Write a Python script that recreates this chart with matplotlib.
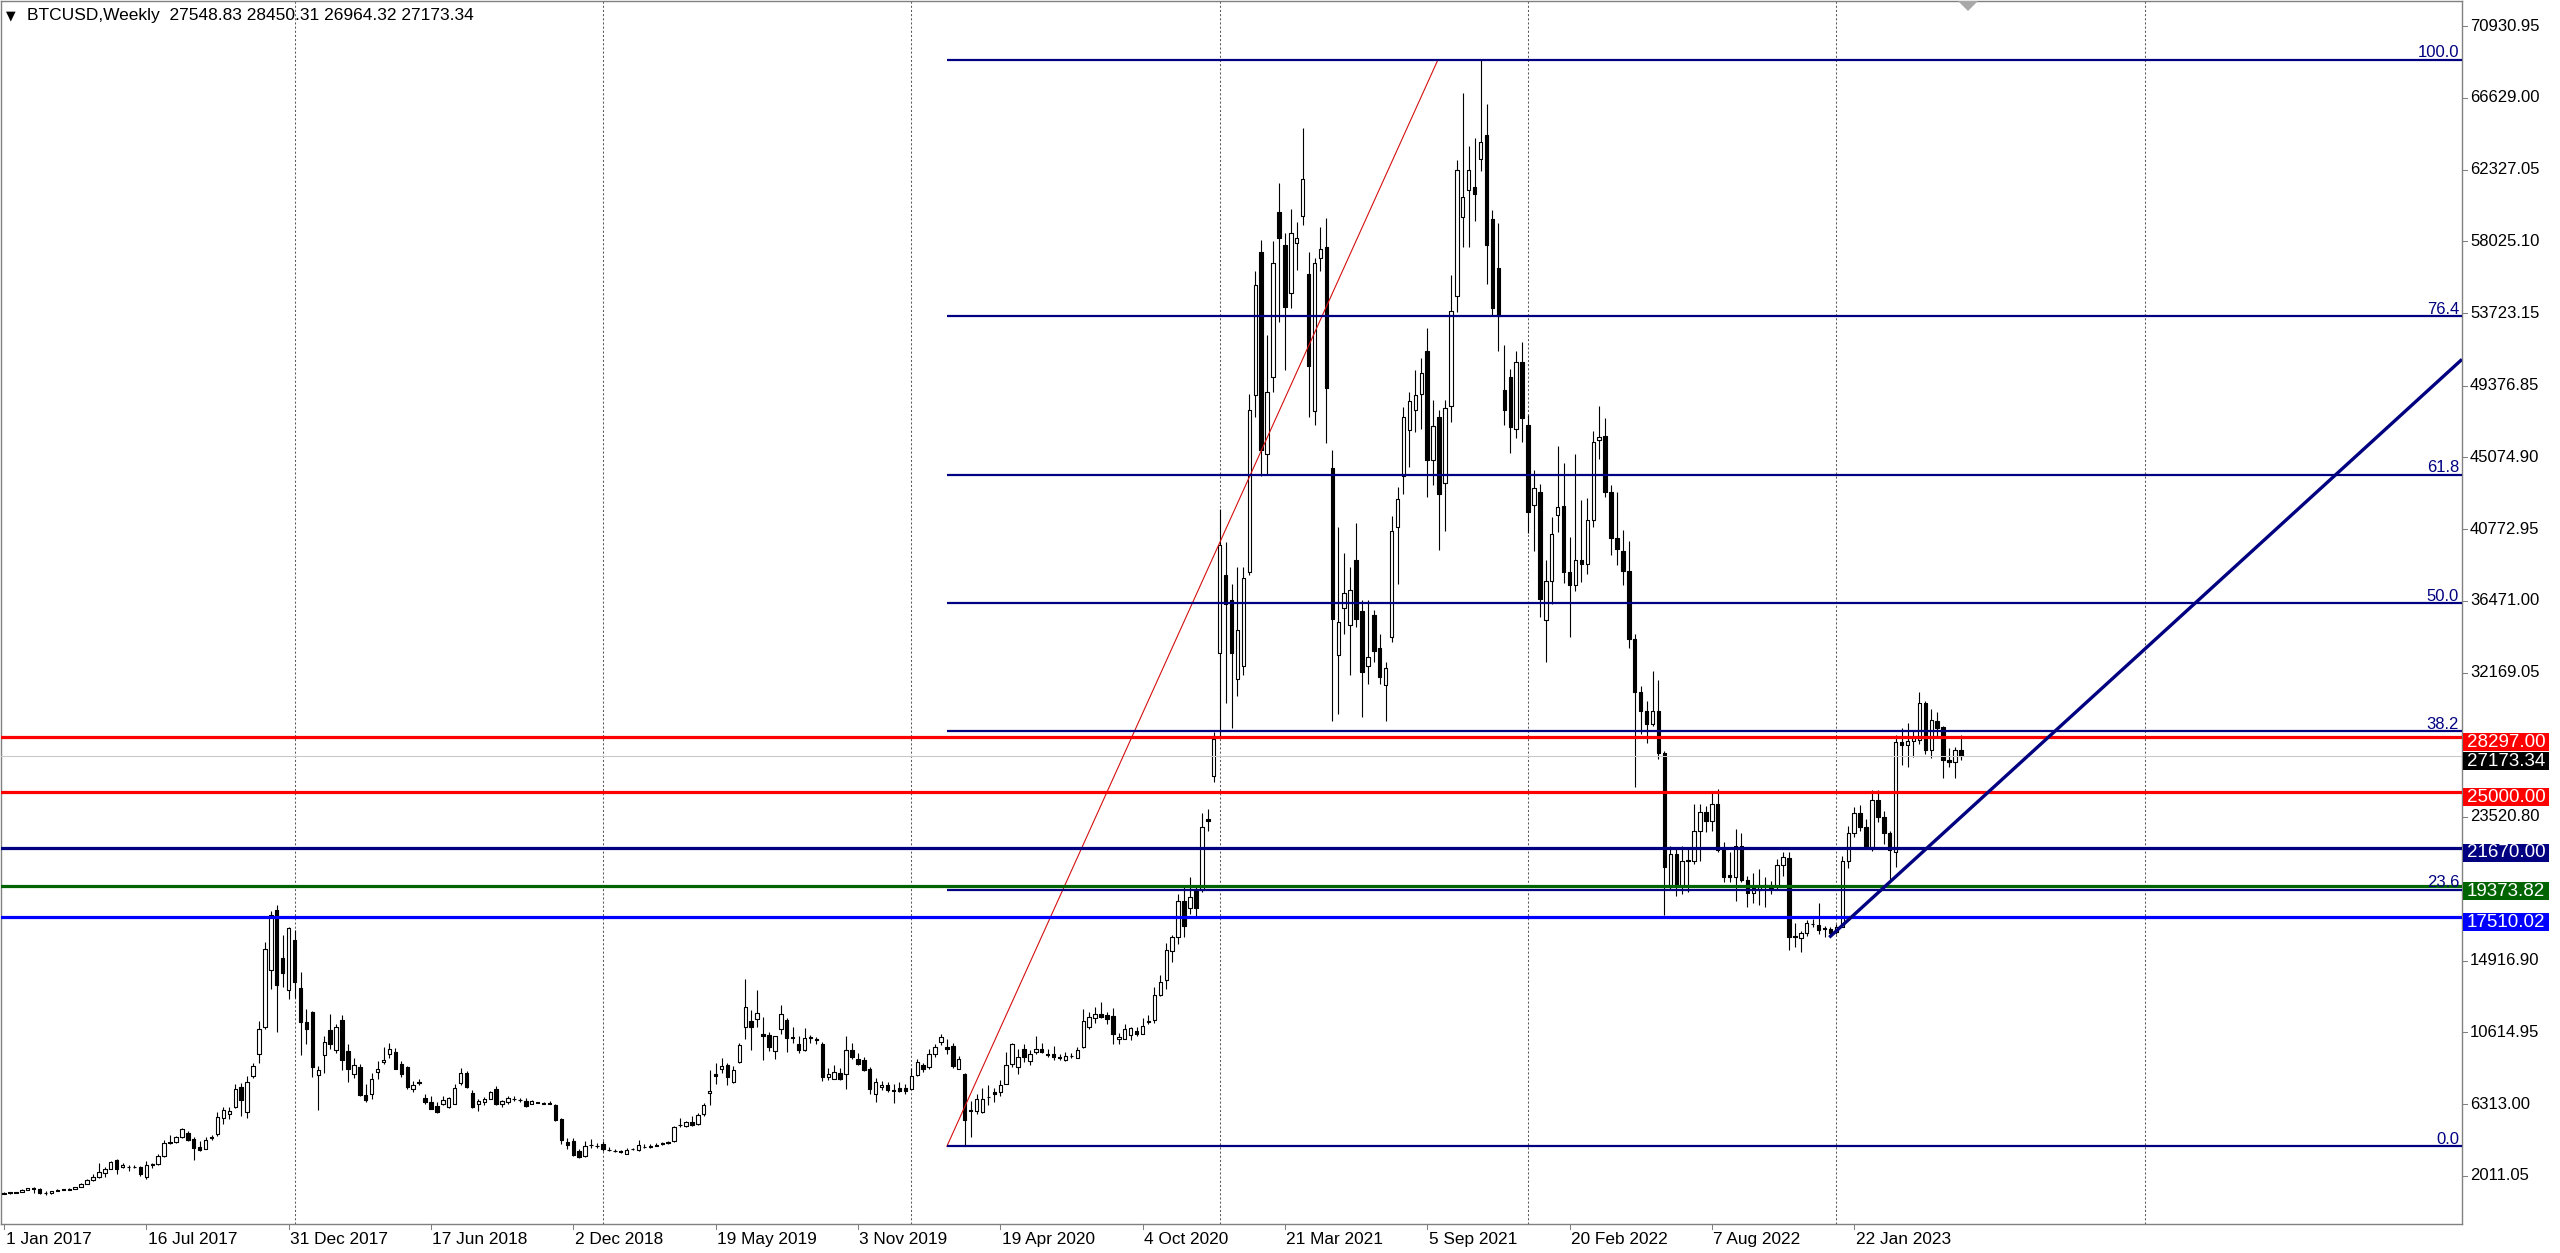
import matplotlib
matplotlib.use("Agg")
import matplotlib.pyplot as plt
import matplotlib.transforms as mtransforms
from matplotlib.patches import Rectangle, Polygon
from matplotlib.collections import PatchCollection, LineCollection

plt.rcParams['font.family'] = ['Liberation Sans', 'DejaVu Sans']

# ---------------- data ----------------
title_symbol = "BTCUSD,Weekly"
last_ohlc = [27548.83, 28450.31, 26964.32, 27173.34]

# weekly candles, first bar = week of 29 Jan 2017
opens = [
    920, 1010, 1000, 1050, 1170, 1270, 1230, 960, 970, 1090, 1180, 1170, 1250, 1340, 1550, 1740,
    1950, 2150, 2440, 2940, 2540, 2560, 2530, 2550, 1940, 2650, 2740, 3200, 4000, 4050, 4340, 4600,
    4200, 3740, 3640, 4250, 4540, 5500, 5740, 6140, 7340, 5840, 8010, 9300, 10940, 14340, 17940, 15040,
    13140, 16140, 13240, 11240, 11840, 8040, 9240, 10740, 9540, 11340, 9500, 8140, 8540, 6840, 6940, 8240,
    8840, 9300, 9440, 8740, 8540, 7240, 7600, 6700, 6440, 6180, 6300, 6140, 6340, 7580, 8180, 6980,
    6300, 6440, 6640, 7240, 6340, 6440, 6640, 6560, 6480, 6340, 6400, 6340, 6340, 6240, 5440, 4040,
    4100, 3500, 3180, 3840, 3790, 3940, 3540, 3520, 3480, 3340, 3590, 3540, 3760, 3760, 3810, 3920,
    3950, 4100, 5040, 5000, 5240, 5100, 5700, 7000, 8100, 8440, 8640, 7640, 8840, 10940, 11300, 11440,
    10540, 10440, 9500, 10840, 11380, 10300, 9940, 9540, 10300, 10200, 9940, 7940, 7840, 8180, 8140, 9540,
    9040, 8940, 8440, 6940, 7340, 7440, 7100, 7300, 7300, 7240, 8040, 8640, 8540, 9340, 10040, 9740,
    9800, 8440, 8140, 5950, 5900, 5840, 6720, 7040, 7040, 7540, 8740, 8540, 9640, 8900, 9440, 9640,
    9340, 9300, 9100, 8950, 9170, 9100, 9740, 10940, 11500, 11740, 11640, 11580, 10240, 10240, 10440, 10700,
    10540, 11240, 11340, 12840, 13740, 15500, 16340, 18500, 18060, 19160, 19160, 23400, 25970, 33350, 38050, 36510,
    31770, 32560, 38180, 48800, 57360, 45290, 49900, 59770, 57800, 54940, 57930, 59550, 56040, 47830, 57010, 57660,
    44410, 33220, 36070, 35000, 38920, 35850, 32560, 35630, 33660, 31460, 34320, 40900, 43970, 46690, 47920, 48890,
    51430, 44940, 47480, 43530, 48140, 54720, 59510, 61120, 61280, 62940, 64400, 59380, 56440, 49110, 49890, 46770,
    50800, 47030, 42220, 43000, 35300, 37690, 41600, 42160, 38200, 37440, 38950, 38700, 41300, 46100, 46350, 42990,
    40220, 39460, 38270, 34160, 31000, 29870, 29110, 29870, 27340, 19390, 21290, 19390, 20930, 20900, 22670, 23810,
    23300, 24310, 21540, 20020, 19900, 21790, 19770, 18940, 19140, 19420, 19270, 19390, 20650, 21050, 16400, 16250,
    16550, 17080, 17050, 16820, 16790, 16640, 16950, 20900, 22540, 23740, 22940, 21740, 24540, 23540, 22540, 21440,
    28030, 27830, 28090, 28130, 30370, 27530, 29290, 28890, 26930, 26830, 27548.83,
]
highs = [
    1040, 1070, 1060, 1200, 1290, 1330, 1260, 1110, 1100, 1210, 1210, 1260, 1350, 1600, 1850, 2100,
    2750, 2550, 2900, 2990, 2780, 2650, 2650, 2600, 2900, 2800, 3300, 4150, 4450, 4400, 4900, 4700,
    4350, 4100, 4350, 4450, 5850, 6150, 6150, 7500, 7600, 8000, 8800, 11300, 16000, 17900, 18240, 16440,
    16940, 16740, 14240, 12000, 11900, 8600, 10400, 11740, 11100, 11640, 9900, 9100, 8700, 7500, 8200, 8900,
    9750, 9950, 9700, 8900, 8600, 7700, 7800, 6900, 6800, 6450, 6800, 6750, 7500, 8500, 8280, 7150,
    6600, 6750, 7100, 7400, 6550, 6800, 6800, 6650, 6700, 6580, 6450, 6420, 6500, 6300, 5500, 4300,
    4300, 3600, 4100, 4200, 3950, 4100, 3750, 3620, 3550, 3680, 3700, 4180, 3900, 3900, 3950, 4050,
    4100, 5000, 5450, 5300, 5600, 5750, 6400, 8340, 8750, 9050, 8800, 8600, 9950, 13800, 11940, 13140,
    11540, 10650, 10400, 12250, 11500, 10950, 10400, 10900, 10450, 10350, 10050, 8500, 8650, 8450, 10400, 9950,
    9400, 9150, 8550, 7850, 7700, 7650, 7500, 7650, 7500, 8450, 9000, 8800, 9600, 9900, 10500, 10200,
    10000, 9200, 8150, 6500, 6900, 7300, 7450, 7300, 7750, 9450, 10000, 9600, 9900, 9550, 10400, 9950,
    9600, 9800, 9300, 9450, 9350, 9750, 12000, 11850, 12100, 12440, 11850, 12050, 10600, 11100, 10950, 10950,
    11450, 11640, 13350, 14050, 15950, 16450, 18900, 19400, 19900, 19450, 23770, 24000, 28600, 42000, 40020, 37500,
    38480, 38500, 48900, 56260, 58100, 52400, 58020, 61500, 58500, 59990, 59200, 64820, 57360, 57000, 58890, 59420,
    45500, 40900, 39360, 38500, 41120, 36500, 36500, 35900, 34500, 32800, 41560, 43310, 48100, 49000, 50330, 51060,
    52840, 48500, 47900, 48500, 56000, 62890, 66920, 63720, 64190, 68870, 66270, 59900, 59120, 51840, 50400, 51450,
    51970, 47600, 44300, 43500, 38900, 41500, 45770, 44760, 40300, 45260, 42490, 42610, 46650, 48170, 47410, 43400,
    42990, 40720, 40090, 34500, 31400, 30500, 32270, 31760, 27500, 21790, 21600, 21790, 21660, 24310, 24310, 24200,
    25070, 25200, 22040, 21410, 22800, 22550, 20000, 20150, 20400, 19900, 19700, 21000, 21410, 21450, 17140, 16700,
    17340, 17420, 18340, 17000, 16950, 17100, 21200, 23000, 24140, 24240, 23400, 25140, 25140, 23900, 22700, 28430,
    28830, 29130, 28730, 31030, 30500, 29970, 29830, 29000, 27630, 27730, 28450.31,
]
lows = [
    915, 950, 975, 1040, 1140, 975, 940, 890, 940, 1080, 1150, 1160, 1230, 1330, 1540, 1680,
    1900, 1950, 2420, 2140, 2480, 2300, 2450, 2000, 1840, 2500, 2650, 3150, 3900, 3950, 4300, 4100,
    2950, 3500, 3600, 4150, 4400, 5100, 5400, 6100, 5600, 5500, 7900, 8800, 10800, 13200, 10640, 13340,
    12600, 12640, 9240, 9940, 7940, 5940, 8200, 9600, 9400, 8340, 7640, 7900, 6800, 6450, 6600, 7800,
    8700, 9100, 8400, 7950, 7200, 7050, 7450, 6300, 6000, 5780, 6250, 6100, 6300, 7450, 7300, 6100,
    5900, 6250, 6600, 6250, 6150, 6300, 6500, 6450, 6150, 6300, 6360, 6300, 6300, 5300, 3900, 3600,
    3200, 3100, 3150, 3700, 3700, 3500, 3500, 3450, 3380, 3330, 3560, 3520, 3700, 3680, 3780, 3880,
    3900, 4050, 4950, 4950, 5000, 5050, 5600, 6240, 7500, 8200, 7450, 7550, 8800, 10240, 9540, 10940,
    8980, 9500, 9040, 10500, 9450, 9950, 9350, 9500, 9950, 9900, 7700, 7750, 7800, 7780, 7240, 9000,
    8650, 8300, 6900, 6450, 7150, 7050, 6400, 7050, 6900, 7200, 8000, 8250, 8400, 9150, 9850, 9300,
    8500, 8400, 3790, 4350, 5700, 5800, 6250, 6450, 6800, 7500, 8550, 8100, 8850, 8650, 9300, 9400,
    9150, 8950, 8950, 8900, 9050, 9050, 9650, 10800, 11200, 11450, 11100, 9900, 9900, 10200, 10150, 10400,
    10500, 11100, 11200, 12800, 13200, 14800, 15900, 16300, 17700, 17600, 19000, 22650, 25600, 28300, 30370, 28830,
    30800, 32000, 38050, 47500, 43970, 44000, 49000, 53190, 50340, 54000, 56300, 59000, 47480, 47040, 56260, 45950,
    29270, 29710, 34500, 32000, 34900, 29500, 31500, 32800, 31500, 29300, 34000, 37500, 42870, 44500, 46600, 46800,
    42700, 43400, 39550, 40670, 47200, 53790, 57690, 57690, 59250, 62240, 55480, 53550, 51450, 47030, 45340, 46250,
    45990, 40530, 39490, 35500, 32800, 36300, 40590, 37560, 34280, 37060, 37600, 38070, 40900, 45000, 42700, 39210,
    38600, 37440, 33650, 25320, 28480, 27970, 28950, 27000, 17620, 19140, 18760, 18900, 19010, 20700, 20900, 22600,
    22700, 21400, 19640, 19600, 18510, 19600, 18130, 18380, 18260, 18130, 18900, 19200, 20000, 15520, 15700, 15450,
    16400, 16900, 16500, 16300, 16450, 16500, 16900, 20440, 22300, 22700, 21600, 21500, 23200, 21900, 19740, 20500,
    26630, 26530, 27130, 27900, 27300, 27030, 28330, 25840, 26500, 25840, 26964.32,
]
closes = [
    1010, 1000, 1050, 1170, 1270, 1230, 960, 970, 1090, 1180, 1170, 1250, 1340, 1550, 1740, 1950,
    2240, 2440, 2840, 2440, 2680, 2540, 2550, 2140, 2650, 2740, 3200, 4000, 4050, 4340, 4840, 4180,
    3700, 3580, 4180, 4340, 5540, 5940, 5900, 7240, 6540, 7640, 8600, 10840, 15580, 17640, 13440, 14140,
    16840, 13640, 11240, 10840, 8540, 8340, 10040, 9940, 10940, 8940, 8440, 8640, 6840, 6540, 7840, 8440,
    8980, 9640, 8440, 8140, 7340, 7480, 7640, 6440, 6040, 5850, 6540, 6700, 7300, 8180, 7340, 6140,
    6480, 6600, 7040, 6300, 6480, 6680, 6620, 6540, 6180, 6490, 6420, 6360, 6360, 5340, 4140, 3840,
    3240, 3150, 3780, 3850, 3780, 3640, 3560, 3500, 3440, 3580, 3600, 3880, 3740, 3790, 3850, 3950,
    4050, 4940, 5060, 5240, 5040, 5680, 6280, 7100, 7990, 8600, 7940, 8380, 9840, 12140, 10940, 11780,
    10380, 9740, 10380, 11740, 10300, 10320, 9540, 10300, 10280, 10180, 7940, 8140, 8240, 7840, 9540, 9140,
    8740, 8340, 7240, 7640, 7440, 7180, 7120, 7100, 7100, 7980, 8840, 8440, 9300, 9740, 10340, 9640,
    8600, 9040, 5340, 5880, 6600, 6640, 6760, 6940, 7440, 8640, 9900, 9140, 9140, 9340, 9640, 9440,
    9240, 9140, 9080, 9180, 9190, 9540, 11300, 11540, 11740, 11540, 11440, 10540, 10340, 10840, 10900, 10500,
    10980, 11280, 12840, 13640, 15540, 16340, 18500, 16960, 18720, 18060, 22890, 23250, 28170, 39800, 36290, 33350,
    34750, 37830, 47920, 55380, 45510, 49020, 56700, 58240, 54070, 58540, 58240, 61750, 50550, 56700, 57580, 49240,
    35410, 35190, 36950, 37150, 35410, 32210, 33090, 33440, 31900, 32430, 40680, 42570, 47480, 48450, 48800, 50120,
    44940, 46960, 42870, 48010, 53850, 62320, 60680, 62320, 60860, 63980, 57820, 54050, 53530, 47940, 46900, 50800,
    47420, 41830, 43260, 36560, 37690, 40470, 42110, 38200, 37440, 38950, 38700, 41300, 46020, 46300, 42990, 40220,
    39580, 38270, 34160, 31000, 29870, 29110, 29870, 27340, 20530, 21290, 19390, 20910, 20880, 22670, 23810, 23300,
    24310, 21540, 19900, 19900, 21790, 19770, 18940, 19270, 19390, 19360, 19440, 20650, 21100, 16350, 16320, 16550,
    17150, 17110, 16750, 16860, 16590, 16950, 20900, 22540, 23740, 22940, 21740, 24540, 23540, 22540, 21540, 28030,
    27830, 28090, 28230, 30330, 27530, 29330, 28830, 26930, 26830, 27530, 27173.34,
]

date_labels = ['1 Jan 2017', '16 Jul 2017', '31 Dec 2017', '17 Jun 2018', '2 Dec 2018', '19 May 2019',
               '3 Nov 2019', '19 Apr 2020', '4 Oct 2020', '21 Mar 2021', '5 Sep 2021', '20 Feb 2022',
               '7 Aug 2022', '22 Jan 2023']
date_label_idx = [0, 24, 48, 72, 96, 120, 144, 168, 192, 216, 240, 264, 288, 312]
year_grid_idx = [49, 101, 153, 205, 257, 309, 361]

price_ticks = [70930.95, 66629.00, 62327.05, 58025.10, 53723.15, 49376.85, 45074.90, 40772.95,
               36471.00, 32169.05, 23520.80, 14916.90, 10614.95, 6313.00, 2011.05]

fib_low, fib_high = 3780.0, 68900.0
fib_start_idx, fib_end_idx = 159.0, 241.8
fib_levels = [0.0, 23.6, 38.2, 50.0, 61.8, 76.4, 100.0]

level_prices = [28297.00, 25000.00, 21670.00, 19373.82, 17510.02]
level_colors = ['#FF0000', '#FF0000', '#000080', '#006400', '#0000FF']
bid_price = 27173.34

trend_start = (307.8, 16305.0)
trend_end = (414.5, 50950.0)

# ---------------- layout (pixels) ----------------
W, H = 2560, 1253
PL, PR, PT, PB = 1, 2462, 1, 1224
BAR0_PX, BAR_STEP = 4.0, 5.93
PRICE_REF, PRICE_REF_PX, PRICE_PER_PX = 70930.95, 26.0, 59.94

fig = plt.figure(figsize=(W / 100, H / 100), dpi=100)
fig.patch.set_facecolor('white')
ax = fig.add_axes([PL / W, 1 - PB / H, (PR - PL) / W, (PB - PT) / H])
ax.set_facecolor('white')
ax.set_xlim((PL - BAR0_PX) / BAR_STEP, (PR - BAR0_PX) / BAR_STEP)
ax.set_ylim(PRICE_REF - (PB - PRICE_REF_PX) * PRICE_PER_PX, PRICE_REF + (PRICE_REF_PX - PT) * PRICE_PER_PX)
ax.set_xticks([])
ax.set_yticks([])
for s in ax.spines.values():
    s.set_color('#808080')
    s.set_linewidth(1.0)

xmax = ax.get_xlim()[1]

# year grid
for gi in year_grid_idx:
    ax.axvline(gi, color='#5a5a5a', lw=0.75, ls=(0, (2, 2)), zorder=0.5)

# candles
n = len(closes)
segs = [[(i, lows[i]), (i, highs[i])] for i in range(n)]
ax.add_collection(LineCollection(segs, colors='black', linewidths=0.8, zorder=2))
rects, fcs = [], []
bw = 0.58
for i in range(n):
    o, c = opens[i], closes[i]
    lo = min(o, c)
    h = max(abs(c - o), 25)
    rects.append(Rectangle((i - bw / 2, lo), bw, h))
    fcs.append('white' if c >= o else 'black')
ax.add_collection(PatchCollection(rects, facecolors=fcs, edgecolors='black', linewidths=0.8, zorder=3))

# bid line
ax.axhline(bid_price, color='#C8C8C8', lw=0.75, zorder=3.5)

# fibonacci
ax.plot([fib_start_idx, fib_end_idx], [fib_low, fib_high], color='#D41010', lw=0.8, zorder=4)
trans_fx = mtransforms.blended_transform_factory(fig.transFigure, ax.transData)
px_price = PRICE_PER_PX
for lv in fib_levels:
    p = fib_low + (fib_high - fib_low) * lv / 100.0
    ax.hlines(p, fib_start_idx, xmax, color='#000080', lw=1.6, zorder=4)
    fig.text(2459 / W, p + 2.5 * px_price, f'{lv:.1f}', transform=trans_fx, ha='right', va='baseline',
             fontsize=12, color='#000080')

# horizontal levels
for p, col in zip(level_prices, level_colors):
    ax.axhline(p, color=col, lw=2.3, zorder=4.5)

# trendline (ray)
ax.plot([trend_start[0], trend_end[0]], [trend_start[1], trend_end[1]], color='#000080', lw=2.4,
        zorder=5, solid_capstyle='butt')

# right price axis
for p in price_ticks:
    ax.plot([PR / W, (PR + 5) / W], [p, p], transform=trans_fx, color='#808080', lw=0.75, clip_on=False)
    fig.text(2470 / W, p, f'{p:.2f}', transform=trans_fx, ha='left', va='center', fontsize=12, color='black')

def price_box(p, col):
    top = p + 4 * px_price
    bot = p - 14 * px_price
    r = Rectangle((2463 / W, bot), 86 / W, top - bot, transform=trans_fx, facecolor=col,
                  edgecolor='none', clip_on=False, zorder=10)
    fig.add_artist(r)
    fig.text(2506 / W, (top + bot) / 2, f'{p:.2f}', transform=trans_fx, ha='center', va='center',
             fontsize=13.5, color='white', zorder=11)

price_box(bid_price, '#000000')
for p, col in zip(level_prices, level_colors):
    price_box(p, col)

# time axis
trans_xf = mtransforms.blended_transform_factory(ax.transData, fig.transFigure)
for lab, i in zip(date_labels, date_label_idx):
    ax.plot([i, i], [1 - PB / H, 1 - (PB + 5) / H], transform=trans_xf, color='#808080', lw=0.75,
            clip_on=False)
    t = fig.text(0, 1 - 1232 / H, lab, ha='left', va='top', fontsize=12.4, color='black')
    t.set_transform(mtransforms.blended_transform_factory(ax.transData, fig.transFigure)
                    + mtransforms.ScaledTranslation(1.5 / 100, 0, fig.dpi_scale_trans))
    t.set_x(i)

# title
fig.text(6 / W, 1 - 19 / H, '\u25bc', ha='left', va='baseline', fontsize=9, color='black',
         family=['DejaVu Sans'])
fig.text(27 / W, 1 - 20 / H,
         f'{title_symbol}  {last_ohlc[0]:.2f} {last_ohlc[1]:.2f} {last_ohlc[2]:.2f} {last_ohlc[3]:.2f}',
         ha='left', va='baseline', fontsize=12.5, color='black')

# shift marker at top
tri = Polygon([[1958 / W, 1 - 1 / H], [1978 / W, 1 - 1 / H], [1968 / W, 1 - 11 / H]], closed=True,
              transform=fig.transFigure, facecolor='#A8A8A8', edgecolor='none')
fig.add_artist(tri)

fig.savefig('out.png', dpi=100, facecolor='white')
